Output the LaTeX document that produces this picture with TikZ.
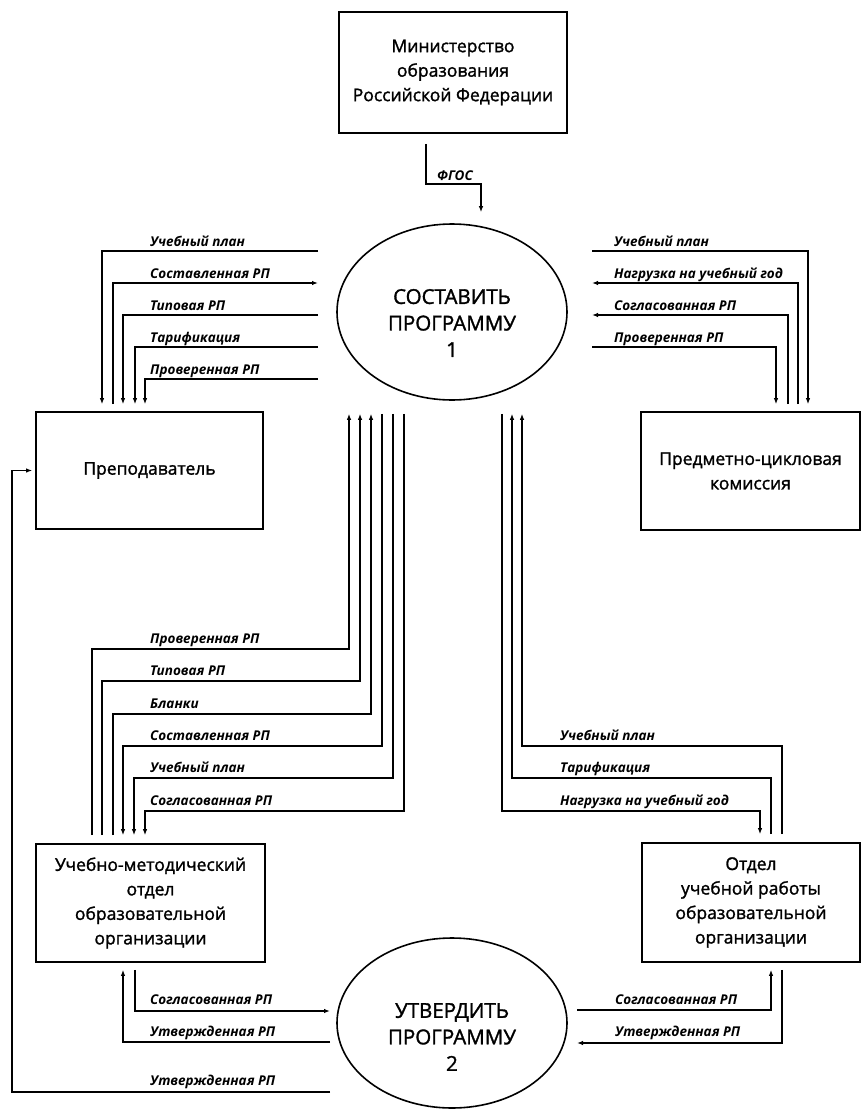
\documentclass[tikz,border=0pt]{standalone}
\usepackage{fontspec}
\setmainfont{Open Sans}
\newfontfamily\boxfont[FakeBold=1.5]{Open Sans}
\usetikzlibrary{arrows.meta}
\usetikzlibrary{shapes.geometric}

\begin{document}
\begin{tikzpicture}
[x=1pt,y=-1pt,%
  box/.style={shape=rectangle,draw,line width=1.7pt,align=center,font=\boxfont\fontsize{17.5}{24.5}\selectfont},%
  proc/.style={shape=ellipse,draw,line width=1.6pt,minimum width=230pt},%
  ptext/.style={align=center,font=\boxfont\fontsize{20.5}{26.5}\selectfont},%
  flow/.style={line width=1.2pt},%
  arr/.style={-{Latex[length=6pt,width=4.5pt]}},%
  lbl/.style={anchor=base west,inner sep=0pt,font=\fontsize{13.5}{15}\selectfont\bfseries\itshape}]
\useasboundingbox (0,0) rectangle (862,1112);
% boxes and processes
\node[box,minimum width=228pt,minimum height=121pt] (min) at (453,72.5)
  {Министерство\\образования\\Российской Федерации};
\node[proc,minimum height=176pt,
  label={[ptext,yshift=-11pt]center:СОСТАВИТЬ\\ПРОГРАММУ\\1}] (e1) at (452,312) {};
\node[box,minimum width=227pt,minimum height=117pt] (prep) at (149.5,470.5) {Преподаватель};
\node[box,minimum width=219pt,minimum height=118pt] (pck) at (750.5,471) {Предметно-цикловая\\комиссия};
\node[box,minimum width=229pt,minimum height=118pt] (umo) at (150.5,903)
  {Учебно-методический\\отдел\\образовательной\\организации};
\node[box,minimum width=218pt,minimum height=119pt] (our) at (751,902.5)
  {Отдел\\учебной работы\\образовательной\\организации};
\node[proc,minimum height=170pt,
  label={[ptext,yshift=-14pt]center:УТВЕРДИТЬ\\ПРОГРАММУ\\2}] (e2) at (452,1023) {};
% ports
\coordinate (minB) at ([yshift=-10pt]min.south);
\coordinate (e1T) at ([yshift=11pt]e1.north);
\coordinate (e1B) at ([yshift=-13pt]e1.south);
\coordinate (e1L) at (318,312);
\coordinate (e1R) at (592,312);
\coordinate (e2L) at (330,1023);
\coordinate (e2R) at (577,1023);
\coordinate (prepT) at ([yshift=7pt]prep.north);
\coordinate (pckT) at ([yshift=7pt]pck.north);
\coordinate (umoT) at ([yshift=8pt]umo.north);
\coordinate (umoB) at ([yshift=-7pt]umo.south);
\coordinate (ourT) at ([yshift=8pt]our.north);
\coordinate (ourB) at ([yshift=-7pt]our.south);
% ministry
\draw[flow,arr] (426,0 |- minB) |- (481,184) -- (481,0 |- e1T);
\node[lbl] (fgos) at (437,180) {ФГОС};
% teacher
\draw[flow,arr] (e1L |- 0,251) -| (102,0 |- prepT);
\draw[flow,arr,line width=1.6pt] (113,0 |- prepT) |- (e1L |- 0,283);
\draw[flow,arr] (e1L |- 0,315) -| (123,0 |- prepT);
\draw[flow,arr] (e1L |- 0,347) -| (135,0 |- prepT);
\draw[flow,arr] (e1L |- 0,379) -| (145,0 |- prepT);
\node[lbl] (p1) at (150,246) {Учебный план};
\node[lbl] (p2) at (150,278) {Составленная РП};
\node[lbl] (p3) at (150,310) {Типовая РП};
\node[lbl] (p4) at (150,342) {Тарификация};
\node[lbl] (p5) at (150,374) {Проверенная РП};
% commission
\draw[flow,arr,line width=1.6pt] (e1R |- 0,251) -| (808,0 |- pckT);
\draw[flow,arr,line width=1.6pt] (798,0 |- pckT) |- (e1R |- 0,283);
\draw[flow,arr] (788,0 |- pckT) |- (e1R |- 0,315);
\draw[flow,arr] (e1R |- 0,347) -| (776,0 |- pckT);
\node[lbl] (c1) at (614,246) {Учебный план};
\node[lbl] (c2) at (614,278) {Нагрузка на учебный год};
\node[lbl] (c3) at (614,310) {Согласованная РП};
\node[lbl] (c4) at (614,342) {Проверенная РП};
% methodical department
\draw[flow,arr] (92,0 |- umoT) |- (349,649) -- (349,0 |- e1B);
\draw[flow,arr] (102,0 |- umoT) |- (360,681) -- (360,0 |- e1B);
\draw[flow,arr] (113,0 |- umoT) |- (371,714) -- (371,0 |- e1B);
\draw[flow,arr] (382,0 |- e1B) |- (123,746) -- (123,0 |- umoT);
\draw[flow,arr] (393,0 |- e1B) |- (134,778) -- (134,0 |- umoT);
\draw[flow,arr] (404,0 |- e1B) |- (145,811) -- (145,0 |- umoT);
\node[lbl] (m1) at (150,643) {Проверенная РП};
\node[lbl] (m2) at (150,675) {Типовая РП};
\node[lbl] (m3) at (150,708) {Бланки};
\node[lbl] (m4) at (150,740) {Составленная РП};
\node[lbl] (m5) at (150,772) {Учебный план};
\node[lbl] (m6) at (150,805) {Согласованная РП};
% study department
\draw[flow,arr] (782,0 |- ourT) |- (522,746) -- (522,0 |- e1B);
\draw[flow,arr] (771,0 |- ourT) |- (512,778) -- (512,0 |- e1B);
\draw[flow,arr] (502,0 |- e1B) |- (760,811) -- (760,0 |- ourT);
\node[lbl] (s1) at (560,740) {Учебный план};
\node[lbl] (s2) at (560,772) {Тарификация};
\node[lbl] (s3) at (560,805) {Нагрузка на учебный год};
% approval
\draw[flow,arr,line width=1.6pt] (135,0 |- umoB) |- (e2L |- 0,1011);
\draw[flow,arr] (e2L |- 0,1042) -| (123,0 |- umoB);
\draw[flow,arr,line width=1.6pt] (e2L |- 0,1092) -| (12,0 |- prep.west) -- ([xshift=-3pt]prep.west);
\draw[flow,arr] (e2R |- 0,1010) -| (771,0 |- ourB);
\draw[flow,arr] (782,0 |- ourB) |- (e2R |- 0,1043);
\node[lbl] (a1) at (150,1004) {Согласованная РП};
\node[lbl] (a2) at (150,1036) {Утвержденная РП};
\node[lbl] (a3) at (150,1085) {Утвержденная РП};
\node[lbl] (a4) at (615,1004) {Согласованная РП};
\node[lbl] (a5) at (615,1036) {Утвержденная РП};
\end{tikzpicture}
\end{document}
